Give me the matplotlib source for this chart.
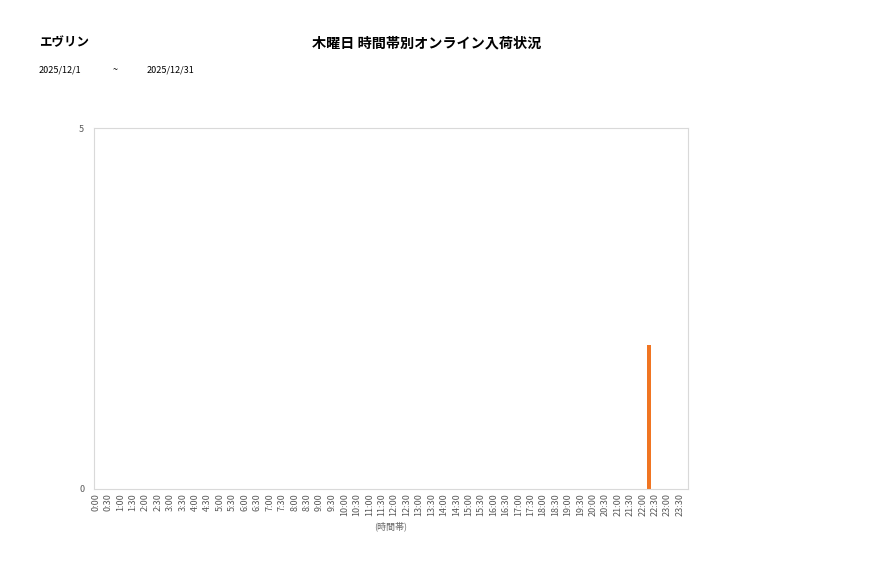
import matplotlib
matplotlib.use('Agg')
import matplotlib.pyplot as plt
import numpy as np

plt.rcParams['font.family'] = ['Noto Sans CJK JP', 'DejaVu Sans']

# data
shop = 'エヴリン'
title = '木曜日 時間帯別オンライン入荷状況'
date_from = '2025/12/1'
date_to = '2025/12/31'
slots = ['%d:%02d' % (h, m) for h in range(24) for m in (0, 30)]
counts = [0] * 48
counts[44] = 2  # 22:00

fig = plt.figure(figsize=(8.77, 5.78), dpi=100)
ax = fig.add_axes([94/877, 1-489/578, (688-94)/877, (489-128)/578])

x = np.arange(len(slots))
ax.bar(x + 0.5, counts, width=0.3, color='#F07522')

ax.set_xlim(-0.15, 47.65)
ax.set_ylim(0, 5)
ax.set_yticks([0, 5])
ax.set_xticks(x)
ax.set_xticklabels(slots, rotation=90, fontsize=6.5, color='#595959')
ax.tick_params(axis='y', labelsize=6.5, colors='#595959', length=0, pad=7)
ax.tick_params(axis='x', length=0, pad=3)
for s in ax.spines.values():
    s.set_color('#D9D9D9')
    s.set_linewidth(0.8)
ax.set_xlabel('(時間帯)', fontsize=6.5, color='#666666', labelpad=4)

fig.text(427/877, 1-43/578, title, ha='center', va='center', fontsize=10.2, fontweight='bold')
fig.text(39/877, 1-43/578, shop, ha='left', va='center', fontsize=9, fontweight='bold')
fig.text(39/877, 1-70/578, date_from, ha='left', va='center', fontsize=6.5)
fig.text(113/877, 1-70/578, '~', ha='left', va='center', fontsize=6.5)
fig.text(147/877, 1-70/578, date_to, ha='left', va='center', fontsize=6.5)

fig.savefig('out.png', dpi=100, facecolor='white')
